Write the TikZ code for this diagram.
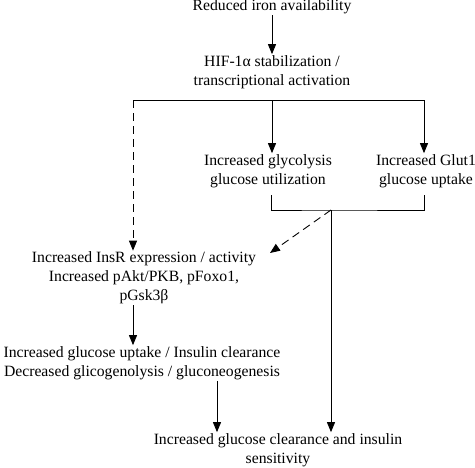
\documentclass[tikz,border=0pt]{standalone}
\usepackage{fontspec}
\setmainfont{Liberation Serif}
\usetikzlibrary{arrows.meta}

\begin{document}
\begin{tikzpicture}[x=1pt, y=-1pt,
    every node/.style={align=center, inner sep=1pt, font=\fontsize{15.7}{19}\selectfont},
    arr/.style={-{Triangle[length=10pt,width=8pt]}, line width=0.9pt},
    darr/.style={arr, dash pattern=on 8pt off 5pt}]
    \useasboundingbox (0,0) rectangle (475,467);

    \node (iron) at (272,7) {Reduced iron availability};
    \node (hif) at (272,72) {HIF-1α stabilization /\\transcriptional activation};
    \node (glyc) at (268,171) {Increased glycolysis\\glucose utilization};
    \node (glut) at (426,171) {Increased Glut1\\glucose uptake};
    \node (insr) at (144,278) {Increased InsR expression / activity\\Increased pAkt/PKB, pFoxo1,\\pGsk3β};
    \node (uptake) at (142,363) {Increased glucose uptake / Insulin clearance\\Decreased glicogenolysis / gluconeogenesis};
    \node (clear) at (278,450) {Increased glucose clearance and insulin\\sensitivity};

    \coordinate (lft) at (133,100);
    \coordinate (mid) at (272,100);
    \coordinate (rgt) at (424,100);
    \coordinate (gl) at (271,195);
    \coordinate (gu) at (424,195);
    \coordinate (join) at (331,210);
    \coordinate (insrin) at (270,253);

    \draw[arr] (iron) -- (hif);
    \draw[line width=0.9pt] (lft) -- (rgt);
    \draw[arr] (mid) -- (glyc.north -| mid);
    \draw[arr] (rgt) -- (glut.north -| rgt);
    \draw[darr] (lft) -- (insr.north -| lft);
    \draw[line width=0.7pt] (gl) |- (join) -| (gu);
    \draw[darr] (join) -- (insrin);
    \draw[arr] (join) -- (clear.north -| join);
    \draw[arr] (insr.south -| lft) -- (uptake.north -| lft);
    \draw[arr] (uptake.south -| 217,0) -- (clear.north -| 217,0);
\end{tikzpicture}
\end{document}
